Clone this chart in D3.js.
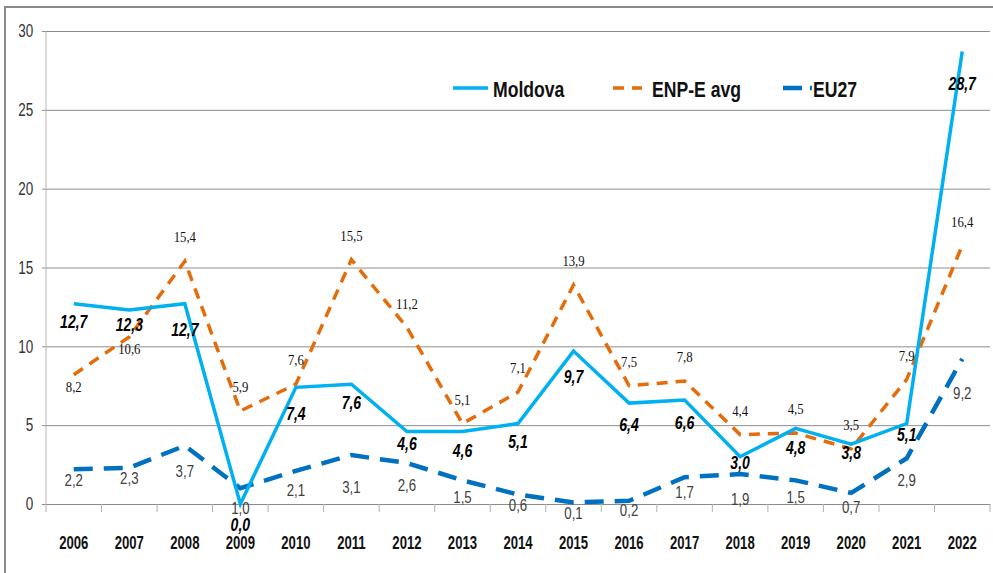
<!DOCTYPE html>
<html>
<head>
<meta charset="utf-8">
<script src="https://cdn.jsdelivr.net/npm/d3@7"></script>
<style>
  html, body { margin: 0; padding: 0; background: #fff; }
  svg { display: block; }
</style>
</head>
<body>
<svg id="chart" width="993" height="573"></svg>
<script>
const years = ["2006","2007","2008","2009","2010","2011","2012","2013","2014","2015","2016","2017","2018","2019","2020","2021","2022"];
const moldova = [12.7, 12.3, 12.7, 0.0, 7.4, 7.6, 4.6, 4.6, 5.1, 9.7, 6.4, 6.6, 3.0, 4.8, 3.8, 5.1, 28.7];
const enpAvg  = [8.2, 10.6, 15.4, 5.9, 7.6, 15.5, 11.2, 5.1, 7.1, 13.9, 7.5, 7.8, 4.4, 4.5, 3.5, 7.9, 16.4];
const eu27    = [2.2, 2.3, 3.7, 1.0, 2.1, 3.1, 2.6, 1.5, 0.6, 0.1, 0.2, 1.7, 1.9, 1.5, 0.7, 2.9, 9.2];
const yTicks  = [0, 5, 10, 15, 20, 25, 30];
const seriesNames = ["Moldova", "ENP-E avg", "EU27"];

// label placement (pixel offsets below/above each point, as placed in the original)
const moldovaLabelDy = [18, 15, 26, 21, 26, 19, 12, 19, 18, 26, 22, 23, 6, 19, 9, 11, 32];
const eu27LabelDy    = [11, 10, 25, 20, 19, 32, 22, 17, 11, 11, 9, 15, 25, 17, 14, 22, 34];
const enpBelow = new Set(["2006", "2007"]);

const SANS = '"Liberation Sans", Arial, sans-serif';
const SERIF = '"Liberation Serif", "DejaVu Serif", serif';

const svg = d3.select("#chart");
const pLeft = 46, pRight = 990, pTop = 31, pBottom = 504;

const x = d3.scaleBand().domain(years).range([pLeft, pRight]);
const y = d3.scaleLinear().domain([0, 30]).range([pBottom, pTop]);
const cx = d => x(d) + x.bandwidth() / 2;
const fmt = v => d3.format(".1f")(v).replace(".", ",");

// outer frame
svg.append("rect").attr("x", 5).attr("y", 7).attr("width", 1000).attr("height", 600)
  .attr("fill", "none").attr("stroke", "#8a8a8a").attr("stroke-width", 2);

// y axis with gridlines
const gy = svg.append("g").attr("transform", `translate(${pLeft},0)`)
  .call(d3.axisLeft(y).tickValues(yTicks).tickSize(0).tickPadding(17).tickFormat(d3.format("d")));
gy.select(".domain").remove();
gy.selectAll(".tick line").attr("x1", -4).attr("x2", pRight - pLeft).attr("stroke", "#8c8c8c").attr("stroke-width", 1);
gy.selectAll(".tick text").attr("font-family", SANS).attr("font-size", 18).attr("fill", "#333")
  .attr("transform", "scale(0.75,1)");
// y axis line
svg.append("line").attr("x1", pLeft).attr("x2", pLeft).attr("y1", pTop).attr("y2", pBottom)
  .attr("stroke", "#b5b5b5").attr("stroke-width", 1);

// x axis
const gx = svg.append("g").attr("transform", `translate(0,${pBottom})`)
  .call(d3.axisBottom(x).tickSize(0).tickPadding(32));
gx.select(".domain").attr("stroke", "#8c8c8c");
gx.selectAll(".tick text").attr("font-family", SANS).attr("font-size", 18)
  .attr("font-weight", "bold").attr("fill", "#111").attr("transform", "scale(0.73,1)");
// boundary ticks
const bounds = years.map(d => x(d)).concat([pRight]);
svg.append("g").selectAll("line").data(bounds).join("line")
  .attr("x1", d => d).attr("x2", d => d).attr("y1", pBottom).attr("y2", pBottom + 8)
  .attr("stroke", "#b0b0b0").attr("stroke-width", 1);

const line = d3.line().x((d, i) => cx(years[i])).y(d => y(d));

// EU27
svg.append("path").datum(eu27).attr("d", line).attr("fill", "none")
  .attr("stroke", "#0070C0").attr("stroke-width", 4.5).attr("stroke-dasharray", "19,11");
// ENP-E avg
svg.append("path").datum(enpAvg).attr("d", line).attr("fill", "none")
  .attr("stroke", "#E46C0A").attr("stroke-width", 3.5).attr("stroke-dasharray", "11,8");
// Moldova
svg.append("path").datum(moldova).attr("d", line).attr("fill", "none")
  .attr("stroke", "#00B0F0").attr("stroke-width", 3.5).attr("stroke-linejoin", "miter");

// labels
svg.append("g").selectAll("text").data(eu27).join("text")
  .attr("transform", (d, i) => `translate(${cx(years[i])},${y(d) + eu27LabelDy[i]}) scale(0.78,1)`)
  .attr("dy", "0.35em")
  .attr("text-anchor", "middle").attr("font-family", SANS).attr("font-size", 17)
  .attr("fill", "#404040").text(fmt);

svg.append("g").selectAll("text").data(enpAvg).join("text")
  .attr("transform", (d, i) => `translate(${cx(years[i])},${y(d) + (enpBelow.has(years[i]) ? 12 : -24)}) scale(0.85,1)`)
  .attr("dy", "0.35em")
  .attr("text-anchor", "middle").attr("font-family", SERIF).attr("font-size", 15)
  .attr("fill", "#111").text(fmt);

svg.append("g").selectAll("text").data(moldova).join("text")
  .attr("transform", (d, i) => `translate(${cx(years[i])},${y(d) + moldovaLabelDy[i]}) scale(0.78,1)`)
  .attr("dy", "0.35em")
  .attr("text-anchor", "middle").attr("font-family", SANS).attr("font-size", 18)
  .attr("font-weight", "bold").attr("font-style", "italic")
  .attr("fill", "#000").text(fmt);

// legend
const legend = [
  { name: seriesNames[0], color: "#00B0F0", dash: null, w: 3.5, x1: 453, x2: 488, tx: 493 },
  { name: seriesNames[1], color: "#E46C0A", dash: "11,8", w: 3.5, x1: 613, x2: 642, tx: 652 },
  { name: seriesNames[2], color: "#0070C0", dash: "19,8", w: 4.5, x1: 783, x2: 812, tx: 813 }
];
const lg = svg.append("g");
legend.forEach(l => {
  lg.append("line").attr("x1", l.x1).attr("x2", l.x2).attr("y1", 88).attr("y2", 88)
    .attr("stroke", l.color).attr("stroke-width", l.w).attr("stroke-dasharray", l.dash);
  lg.append("text").attr("transform", `translate(${l.tx},89) scale(0.8,1)`).attr("dy", "0.35em")
    .attr("font-family", SANS).attr("font-size", 22).attr("font-weight", "bold")
    .attr("fill", "#111").text(l.name);
});
</script>
</body>
</html>
